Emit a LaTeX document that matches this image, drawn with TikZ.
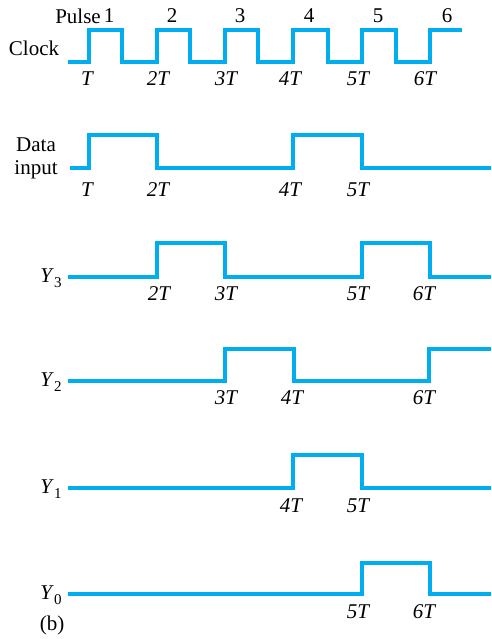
\documentclass[tikz,border=0pt]{standalone}
\usepackage{fontspec}
\setmainfont{Liberation Serif}
\newcommand{\ysub}[1]{\textit{Y}\raisebox{-5pt}{\fontsize{15}{15}\selectfont #1}}
\begin{document}
\begin{tikzpicture}[x=1pt,y=-1pt,
  wave/.style={draw={rgb,255:red,0;green,174;blue,239},line width=3.2pt,line join=miter,line cap=butt},
  lbl/.style={inner sep=0pt,font=\fontsize{21}{23}\selectfont},
  tlbl/.style={lbl,font=\fontsize{21}{23}\selectfont\itshape}]
\useasboundingbox (0,0) rectangle (491,639);
% Clock
\draw[wave] (68,62) -- (89,62) -- (89,30) -- (122,30) -- (122,62) -- (157,62) -- (157,30) -- (190,30) -- (190,62) -- (225,62) -- (225,30) -- (258,30) -- (258,62) -- (293,62) -- (293,30) -- (328,30) -- (328,62) -- (362,62) -- (362,30) -- (396,30) -- (396,62) -- (430,62) -- (430,30) -- (462,30);
\node[lbl] (clk) at (34,48) {Clock};
\node[lbl,anchor=east] (pulse) at (101,16) {Pulse};
\node[lbl] (p1) at (109,16) {1};
\node[lbl] (p2) at (172,16) {2};
\node[lbl] (p3) at (240,16) {3};
\node[lbl] (p4) at (309,16) {4};
\node[lbl] (p5) at (378,16) {5};
\node[lbl] (p6) at (447,16) {6};
\node[tlbl] (c1) at (87,79) {T};
\node[tlbl] (c2) at (158,79) {2T};
\node[tlbl] (c3) at (226,79) {3T};
\node[tlbl] (c4) at (290,79) {4T};
\node[tlbl] (c5) at (358,79) {5T};
\node[tlbl] (c6) at (425,79) {6T};
% Data input
\draw[wave] (70,168) -- (89,168) -- (89,135) -- (157,135) -- (157,168) -- (293,168) -- (293,135) -- (362,135) -- (362,168) -- (491,168);
\node[lbl,align=center] (din) at (36,158) {Data\\input};
\node[tlbl] (d1) at (87,190) {T};
\node[tlbl] (d2) at (158,190) {2T};
\node[tlbl] (d4) at (290,190) {4T};
\node[tlbl] (d5) at (358,190) {5T};
% Y3
\draw[wave] (68,277) -- (157,277) -- (157,243) -- (225,243) -- (225,277) -- (362,277) -- (362,243) -- (430,243) -- (430,277) -- (491,277);
\node[lbl] (y3) at (51,278) {\ysub{3}};
\node[tlbl] (a2) at (159,294) {2T};
\node[tlbl] (a3) at (226,294) {3T};
\node[tlbl] (a5) at (358,294) {5T};
\node[tlbl] (a6) at (424,294) {6T};
% Y2
\draw[wave] (68,381) -- (225,381) -- (225,349) -- (294,349) -- (294,381) -- (429,381) -- (429,349) -- (491,349);
\node[lbl] (y2) at (51,382) {\ysub{2}};
\node[tlbl] (b3) at (226,398) {3T};
\node[tlbl] (b4) at (292,398) {4T};
\node[tlbl] (b6) at (424,398) {6T};
% Y1
\draw[wave] (68,488) -- (293,488) -- (293,455) -- (362,455) -- (362,488) -- (491,488);
\node[lbl] (y1) at (51,489) {\ysub{1}};
\node[tlbl] (e4) at (291,506) {4T};
\node[tlbl] (e5) at (358,506) {5T};
% Y0
\draw[wave] (68,594) -- (362,594) -- (362,563) -- (430,563) -- (430,594) -- (491,594);
\node[lbl] (y0) at (51,595) {\ysub{0}};
\node[tlbl] (f5) at (358,612) {5T};
\node[tlbl] (f6) at (424,612) {6T};
\node[lbl] (cap) at (52,625) {(b)};
\end{tikzpicture}
\end{document}
